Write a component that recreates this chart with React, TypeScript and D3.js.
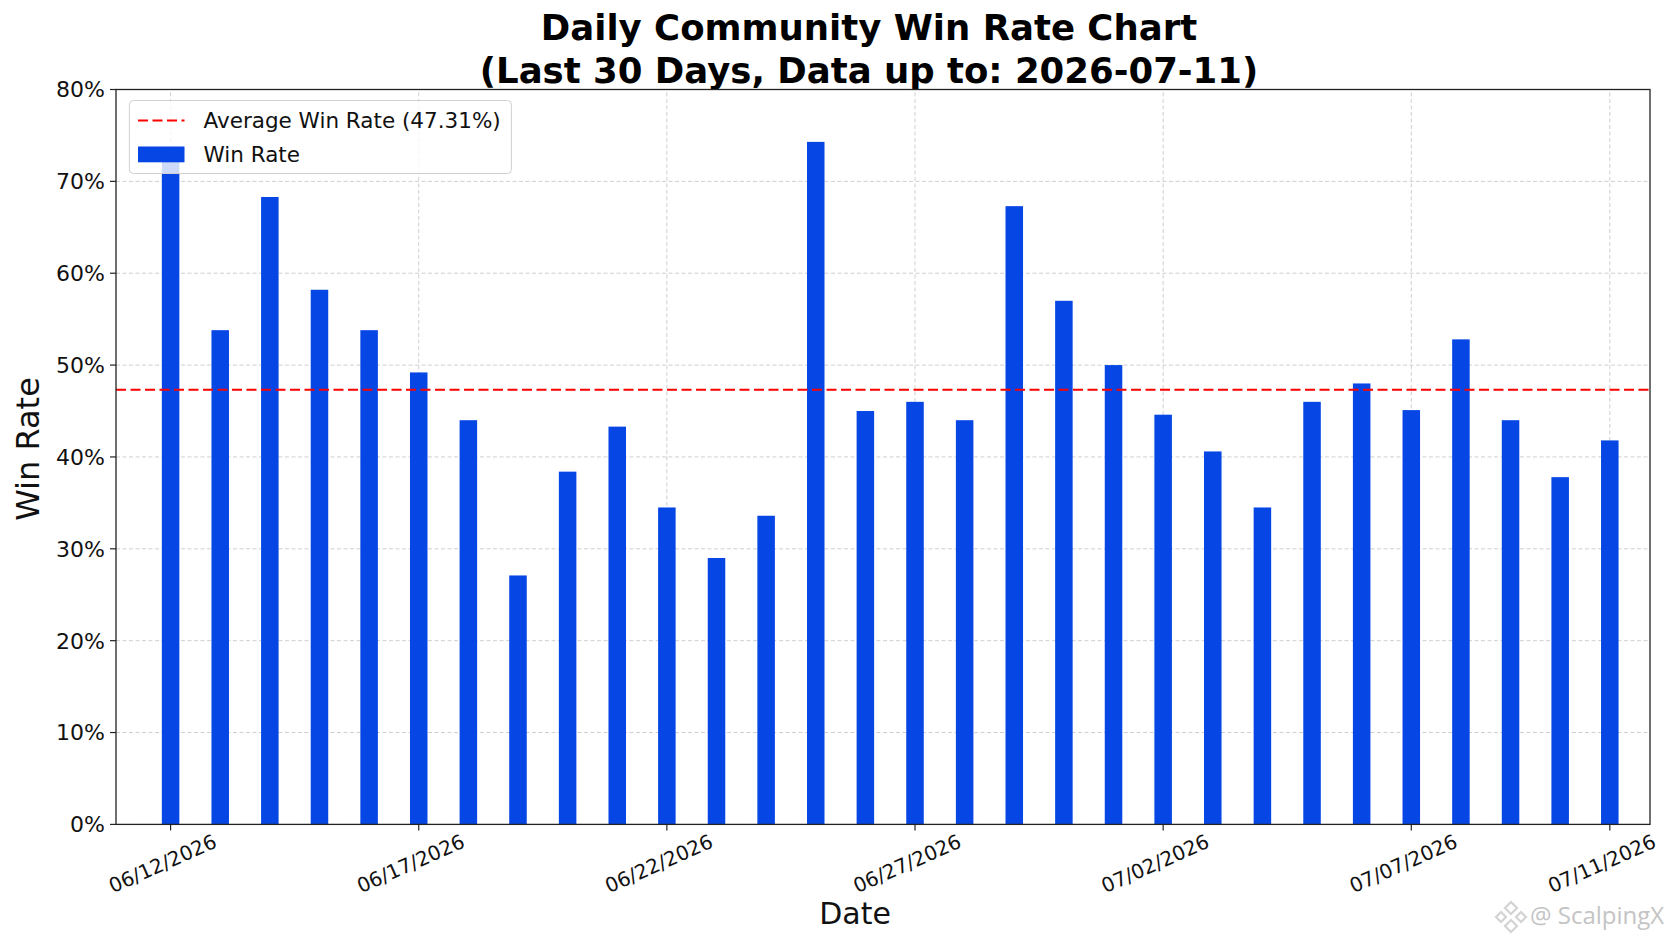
import React from 'react';
import * as d3 from 'd3';

// daily community win rate, last 30 days
const dates: string[] = [
  '2026-06-12', '2026-06-13', '2026-06-14', '2026-06-15', '2026-06-16',
  '2026-06-17', '2026-06-18', '2026-06-19', '2026-06-20', '2026-06-21',
  '2026-06-22', '2026-06-23', '2026-06-24', '2026-06-25', '2026-06-26',
  '2026-06-27', '2026-06-28', '2026-06-29', '2026-06-30', '2026-07-01',
  '2026-07-02', '2026-07-03', '2026-07-04', '2026-07-05', '2026-07-06',
  '2026-07-07', '2026-07-08', '2026-07-09', '2026-07-10', '2026-07-11',
];

const winRates: number[] = [
  73.0, 53.8, 68.3, 58.2, 53.8, 49.2, 44.0, 27.1, 38.4, 43.3,
  34.5, 29.0, 33.6, 74.3, 45.0, 46.0, 44.0, 67.3, 57.0, 50.0,
  44.6, 40.6, 34.5, 46.0, 48.0, 45.1, 52.8, 44.0, 37.8, 41.8,
];

const tickDates: string[] = [
  '2026-06-12', '2026-06-17', '2026-06-22', '2026-06-27',
  '2026-07-02', '2026-07-07', '2026-07-11',
];

const yTicks: number[] = [0, 10, 20, 30, 40, 50, 60, 70, 80];

const avgWinRate = 47.31;

const titleLines: string[] = [
  'Daily Community Win Rate Chart',
  '(Last 30 Days, Data up to: 2026-07-11)',
];

const W = 1672;
const H = 941;
const margin = { top: 89.5, right: 22, bottom: 116.6, left: 116 };
const DAY = 86400000;
const FONT = '"DejaVu Sans", sans-serif';
const BAR_COLOR = '#0546e4';

const parse = d3.utcParse('%Y-%m-%d');
const fmt = d3.utcFormat('%m/%d/%Y');

const App: React.FC = () => {
  const days = dates.map((d) => parse(d) as Date);
  const ticks = tickDates.map((d) => parse(d) as Date);
  const first = days[0];
  const last = days[days.length - 1];

  const x = d3
    .scaleUtc()
    .domain([new Date(+first - 1.1 * DAY), new Date(+last + 0.81 * DAY)])
    .range([margin.left, W - margin.right]);

  const y = d3
    .scaleLinear()
    .domain([0, 80])
    .range([H - margin.bottom, margin.top]);

  const barW = x(new Date(+first + 0.353 * DAY)) - x(first);
  const x0 = margin.left;
  const x1 = W - margin.right;
  const y0 = H - margin.bottom;
  const y1 = margin.top;

  return (
    <svg
      width={W}
      height={H}
      style={{ position: 'absolute', left: 0, top: 0, background: '#fff' }}
      fontFamily={FONT}
    >
      <rect x={0} y={0} width={W} height={H} fill="#fff" />

      {/* title */}
      {titleLines.map((t, i) => (
        <text
          key={t}
          x={869}
          y={40 + i * 43}
          textAnchor="middle"
          fontSize={35.5}
          fontWeight="bold"
          fill="#000"
        >
          {t}
        </text>
      ))}

      {/* grid */}
      <g stroke="#cfcfcf" strokeWidth={1} strokeDasharray="4,2.5">
        {yTicks.map((t) => (
          <line key={'gy' + t} x1={x0} x2={x1} y1={y(t)} y2={y(t)} />
        ))}
        {ticks.map((t) => (
          <line key={'gx' + +t} x1={x(t)} x2={x(t)} y1={y0} y2={y1} />
        ))}
      </g>

      {/* bars */}
      <g fill={BAR_COLOR}>
        {days.map((d, i) => (
          <rect
            key={dates[i]}
            x={x(d) - barW / 2}
            y={y(winRates[i])}
            width={barW}
            height={y0 - y(winRates[i])}
          />
        ))}
      </g>

      {/* average line */}
      <line
        x1={x0}
        x2={x1}
        y1={y(avgWinRate)}
        y2={y(avgWinRate)}
        stroke="#ff0000"
        strokeWidth={2}
        strokeDasharray="10,4.5"
      />

      {/* spines */}
      <rect x={x0} y={y1} width={x1 - x0} height={y0 - y1} fill="none" stroke="#222" strokeWidth={1.3} />

      {/* y axis */}
      {yTicks.map((t) => (
        <g key={'ty' + t}>
          <line x1={x0 - 6} x2={x0} y1={y(t)} y2={y(t)} stroke="#222" strokeWidth={1.2} />
          <text x={x0 - 11} y={y(t)} dy="0.36em" textAnchor="end" fontSize={22} fill="#111">
            {t + '%'}
          </text>
        </g>
      ))}
      <text
        transform={`translate(39, 449) rotate(-90)`}
        textAnchor="middle"
        fontSize={32}
        fill="#111"
      >
        Win Rate
      </text>

      {/* x axis */}
      {ticks.map((t) => (
        <g key={'tx' + +t}>
          <line x1={x(t)} x2={x(t)} y1={y0} y2={y0 + 6} stroke="#222" strokeWidth={1.2} />
          <text
            transform={`translate(${x(t) - 8}, 863.5) rotate(-24)`}
            textAnchor="middle"
            dominantBaseline="central"
            fontSize={20}
            fill="#111"
          >
            {fmt(t)}
          </text>
        </g>
      ))}
      <text x={855} y={924} textAnchor="middle" fontSize={30} fill="#111">
        Date
      </text>

      {/* legend */}
      <g>
        <rect
          x={129.4}
          y={100.5}
          width={382}
          height={73}
          rx={4}
          fill="#fff"
          fillOpacity={0.8}
          stroke="#d0d0d0"
          strokeWidth={1}
        />
        <line
          x1={138}
          x2={184.5}
          y1={120.6}
          y2={120.6}
          stroke="#ff0000"
          strokeWidth={2}
          strokeDasharray="10,4.5"
        />
        <text x={203.5} y={120.6} dy="0.36em" fontSize={21.5} fill="#111">
          {`Average Win Rate (${avgWinRate.toFixed(2)}%)`}
        </text>
        <rect x={138} y={146.5} width={46.5} height={15.8} fill={BAR_COLOR} />
        <text x={203.5} y={154.5} dy="0.36em" fontSize={21.5} fill="#111">
          Win Rate
        </text>
      </g>

      {/* watermark */}
      <g fill="none" stroke="#cfcfcf" strokeWidth={2.2} opacity={0.9}>
        <path d="M1511,902 l6,6 l-6,6 l-6,-6 z" />
        <path d="M1501,912 l5,5 l-5,5 l-5,-5 z" />
        <path d="M1521,912 l5,5 l-5,5 l-5,-5 z" />
        <path d="M1511,920 l6,6 l-6,6 l-6,-6 z" />
      </g>
      <text x={1530} y={924} fontSize={24} fill="#c4c4c4" fontFamily='"Open Sans", sans-serif'>
        @ ScalpingX
      </text>
    </svg>
  );
};

export default App;
